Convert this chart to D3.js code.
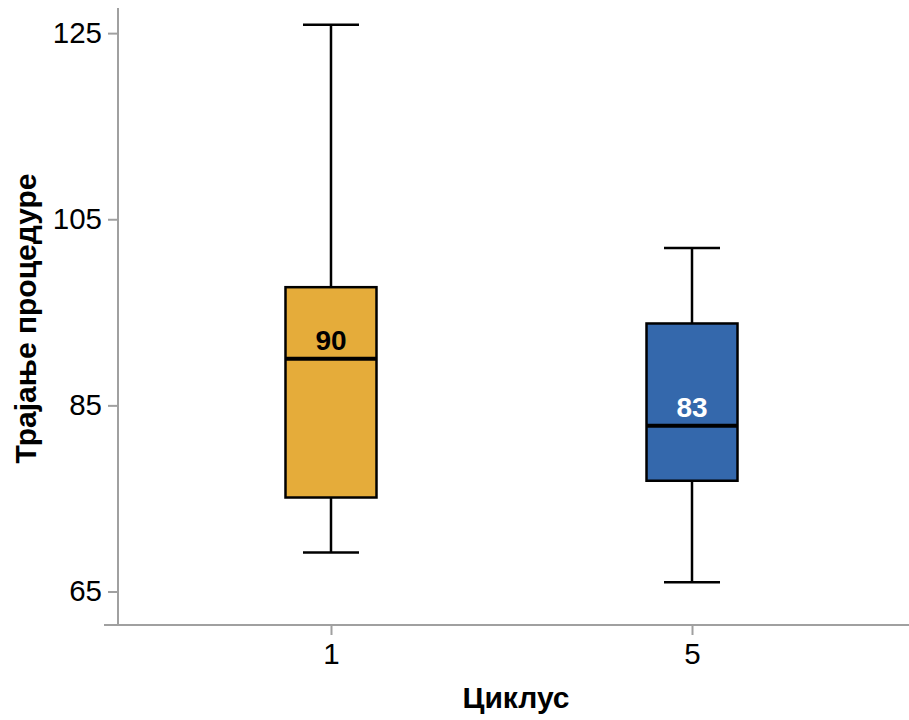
<!DOCTYPE html>
<html>
<head>
<meta charset="utf-8">
<script src="https://cdn.jsdelivr.net/npm/d3@7"></script>
<style>
  html, body { margin: 0; padding: 0; background: #fff; }
  svg { display: block; font-family: "Liberation Sans", Arial, sans-serif; }
</style>
</head>
<body>
<svg id="chart" width="909" height="720"></svg>
<script>
// ---- data ----
const categories = ["1", "5"];
const whiskerLow  = [69.2, 66.0];
const q1          = [75.1, 76.9];
const medians     = [90.0, 82.8];
const q3          = [97.7, 93.8];
const whiskerHigh = [125.9, 101.9];
const medianLabels = ["90", "83"];
const boxColors   = ["#E5AC3A", "#3468AC"];
const labelColors = ["#000000", "#ffffff"];
const yTicks = [65, 85, 105, 125];
const xTitle = "Циклус";
const yTitle = "Трајање процедуре";

(function () {
// ---- layout ----
const svg = d3.select("#chart");
const plotLeft = 118, plotRight = 905, plotTop = 8, plotBottom = 625;

const y = d3.scaleLinear().domain([61.4, 127.7]).range([plotBottom, plotTop]);
const x = d3.scalePoint().domain(categories).range([plotLeft, plotRight]).padding(0.59);
const boxW = 91, capW = 56;

const axisColor = "#a0a0a0";
const fontFam = "Liberation Sans, Arial, sans-serif";

// y axis
const yAxis = svg.append("g").attr("transform", `translate(${plotLeft},0)`)
  .call(d3.axisLeft(y).tickValues(yTicks).tickSize(10).tickSizeOuter(0).tickPadding(6));
yAxis.attr("font-size", null).attr("font-family", null);
yAxis.select(".domain").remove();
yAxis.selectAll(".tick line").attr("stroke", axisColor).attr("stroke-width", 2);
yAxis.selectAll(".tick text").attr("font-size", 29.5).attr("fill", "#000").attr("font-family", fontFam);
svg.append("line").attr("x1", plotLeft).attr("x2", plotLeft).attr("y1", plotTop).attr("y2", plotBottom + 1)
  .attr("stroke", axisColor).attr("stroke-width", 2);

// x axis
const xAxis = svg.append("g").attr("transform", `translate(0,${plotBottom})`)
  .call(d3.axisBottom(x).tickSize(10).tickSizeOuter(0).tickPadding(8));
xAxis.attr("font-size", null).attr("font-family", null);
xAxis.select(".domain").remove();
xAxis.selectAll(".tick line").attr("stroke", axisColor).attr("stroke-width", 2);
xAxis.selectAll(".tick text").attr("font-size", 29.5).attr("fill", "#000").attr("font-family", fontFam);
svg.append("line").attr("x1", 104).attr("x2", 909).attr("y1", plotBottom).attr("y2", plotBottom)
  .attr("stroke", axisColor).attr("stroke-width", 2);

// titles
svg.append("text").attr("x", 516).attr("y", 708).attr("text-anchor", "middle")
  .attr("font-size", 30).attr("font-weight", "bold").text(xTitle);
svg.append("text").attr("transform", "translate(35.5,318.5) rotate(-90)").attr("text-anchor", "middle")
  .attr("font-size", 30).attr("font-weight", "bold").text(yTitle);

// boxes
categories.forEach((c, i) => {
  const cx = x(c);
  const g = svg.append("g");
  g.append("line").attr("x1", cx).attr("x2", cx).attr("y1", y(whiskerHigh[i])).attr("y2", y(q3[i]))
    .attr("stroke", "#000").attr("stroke-width", 2.5);
  g.append("line").attr("x1", cx).attr("x2", cx).attr("y1", y(q1[i])).attr("y2", y(whiskerLow[i]))
    .attr("stroke", "#000").attr("stroke-width", 2.5);
  g.append("line").attr("x1", cx - capW / 2).attr("x2", cx + capW / 2)
    .attr("y1", y(whiskerHigh[i])).attr("y2", y(whiskerHigh[i])).attr("stroke", "#000").attr("stroke-width", 2.5);
  g.append("line").attr("x1", cx - capW / 2).attr("x2", cx + capW / 2)
    .attr("y1", y(whiskerLow[i])).attr("y2", y(whiskerLow[i])).attr("stroke", "#000").attr("stroke-width", 2.5);
  g.append("rect").attr("x", cx - boxW / 2).attr("width", boxW)
    .attr("y", y(q3[i])).attr("height", y(q1[i]) - y(q3[i]))
    .attr("fill", boxColors[i]).attr("stroke", "#000").attr("stroke-width", 2.5);
  g.append("line").attr("x1", cx - boxW / 2).attr("x2", cx + boxW / 2)
    .attr("y1", y(medians[i])).attr("y2", y(medians[i])).attr("stroke", "#000").attr("stroke-width", 4);
  g.append("text").attr("x", cx).attr("y", y(medians[i]) - 9).attr("text-anchor", "middle")
    .attr("font-size", 28).attr("font-weight", "bold").attr("fill", labelColors[i]).text(medianLabels[i]);
});
})();
</script>
</body>
</html>
